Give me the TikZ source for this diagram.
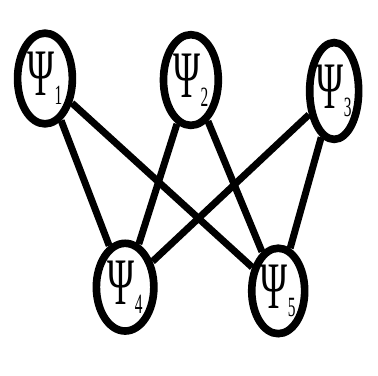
\documentclass[tikz,border=0pt]{standalone}
\usepackage{fontspec}
\usetikzlibrary{shapes.geometric}
\newfontfamily\psifont[FakeStretch=0.55]{Liberation Serif}
\newcommand{\psisub}[1]{{\fontsize{50}{50}\selectfont Ψ}\raisebox{-6.5pt}{\fontsize{21}{21}\selectfont #1}}

\begin{document}
\begin{tikzpicture}[x=1cm, y=1cm,
  state/.style={ellipse, draw, line width=5.75pt, inner sep=0pt,
    minimum width=1.45cm, minimum height=2.40cm, font=\psifont},
  link/.style={line width=5.25pt}]
  \useasboundingbox[fill=white] (0,0) rectangle (10,9.947);
  % upper row
  \node[state] (p1) at (1.19,7.87) {\psisub{1}};
  \node[state] (p2) at (5.05,7.83) {\psisub{2}};
  \node[state, minimum width=1.28cm, minimum height=2.56cm] (p3) at (8.84,7.54) {\psisub{3}};
  % lower row
  \node[state, minimum width=1.52cm, minimum height=2.32cm] (p4) at (3.31,2.35) {\psisub{4}};
  \node[state, minimum width=1.40cm, minimum height=2.26cm] (p5) at (7.36,2.25) {\psisub{5}};
  % connections
  \foreach \a in {p1,p2,p3}
    \foreach \b in {p4,p5}
      \draw[link] (\a) -- (\b);
\end{tikzpicture}
\end{document}
